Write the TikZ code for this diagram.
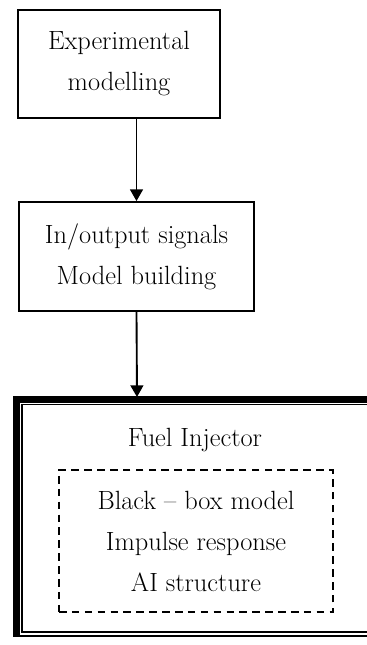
\documentclass[tikz,border=0pt]{standalone}
\usetikzlibrary{arrows.meta}
\begin{document}
\begin{tikzpicture}[x=0.03cm,y=-0.03cm,
  stage/.style={draw,line width=1.6pt,align=center,inner sep=0pt,
    font=\fontsize{22.5}{35}\selectfont},
  label/.style={align=center,inner sep=0pt,font=\fontsize{22.5}{35}\selectfont},
  flow/.style={line width=1.6pt,-{Triangle[width=11pt,length=10pt]}}]
\useasboundingbox (0,0) rectangle (367,645);

\node[stage,minimum width=6.06cm,minimum height=3.24cm] (expmod) at (119,64) {Experimental\\modelling};
\node[stage,minimum width=7.05cm,minimum height=3.27cm] (signals) at (136.5,256.5) {In/output signals\\Model building};

% injector frame
\draw[line width=0.9pt] (14,397) rectangle (380,636);
\fill (14,397) rectangle (380,402.5);
\fill (14,397) rectangle (20,636);
\draw[line width=0.9pt] (22,404.5) rectangle (380,632);
\coordinate (frametop) at (137,397);

\node[label] (injector) at (195,440) {Fuel Injector};
\node[label,draw,line width=1.3pt,dash pattern=on 6.5pt off 4.5pt,
  minimum width=8.22cm,minimum height=4.26cm] (blackbox) at (196,541)
  {Black -- box model\\Impulse response\\AI structure};

\draw[flow] (expmod.south -| signals.north) -- (signals.north);
\draw[flow] (signals.south) -- (frametop);
\end{tikzpicture}
\end{document}
